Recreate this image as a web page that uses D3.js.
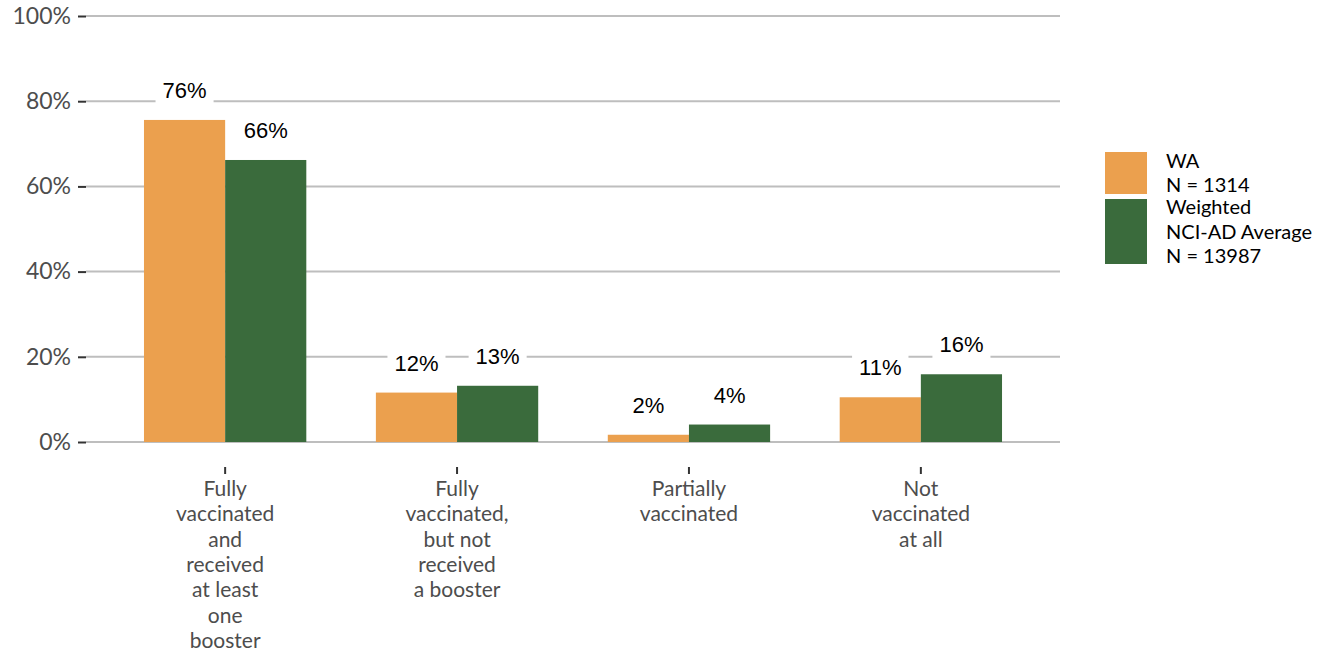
<!DOCTYPE html>
<html>
<head>
<meta charset="utf-8">
<script src="https://cdn.jsdelivr.net/npm/d3@7"></script>
<style>
  body { margin: 0; background: #fff; }
  svg { display: block; }
</style>
</head>
<body>
<svg width="1322" height="655"></svg>
<script>
// chart data
let categories = [
	['Fully', 'vaccinated', 'and', 'received', 'at least', 'one', 'booster'],
	['Fully', 'vaccinated,', 'but not', 'received', 'a booster'],
	['Partially', 'vaccinated'],
	['Not', 'vaccinated', 'at all'],
]
let seriesNames = ['WA', 'NCI']
let waValues = [0.756, 0.116, 0.017, 0.105]
let nciValues = [0.662, 0.132, 0.041, 0.159]
let waLabels = ['76%', '12%', '2%', '11%']
let nciLabels = ['66%', '13%', '4%', '16%']
let yTicks = [0, 0.2, 0.4, 0.6, 0.8, 1]
let legendLines = [
	['WA', 'N = 1314'],
	['Weighted', 'NCI-AD Average', 'N = 13987'],
]
let colors = ['#eba04e', '#3a6b3c']

let svg = d3.select('svg')
let keys = categories.map((c, i) => i)

let xScale = d3.scalePoint()
	.domain(keys)
	.range([86, 1060])
	.padding(0.6)

let groupWidth = xScale.step() * 0.7
let subScale = d3.scaleBand()
	.domain(seriesNames)
	.range([-groupWidth / 2, groupWidth / 2])

let yScale = d3.scaleLinear()
	.domain([0, 1])
	.range([442, 16])

// grid + left axis
let leftAxis = d3.axisLeft(yScale)
	.tickValues(yTicks)
	.tickFormat(d3.format('.0%'))
	.tickSize(8)
	.tickPadding(7)

let leftAxisG = svg.append('g')
	.attr('transform', 'translate(86, 0)')
	.call(leftAxis)
leftAxisG.select('.domain').remove()
leftAxisG.selectAll('.tick line').attr('stroke', '#333').attr('stroke-width', 2)
leftAxisG.selectAll('.tick text')
	.attr('fill', '#4d4d4d')
	.style('font-family', 'Lato, sans-serif')
	.style('font-size', '23px')

svg.append('g')
	.selectAll('line')
	.data(yTicks)
	.join('line')
	.attr('x1', 86)
	.attr('x2', 1060)
	.attr('y1', d => yScale(d))
	.attr('y2', d => yScale(d))
	.attr('stroke', '#bebebe')
	.attr('stroke-width', 2)

// bars
let rows = []
keys.forEach(i => {
	rows.push({ i: i, s: 'WA', v: waValues[i], label: waLabels[i], color: colors[0] })
	rows.push({ i: i, s: 'NCI', v: nciValues[i], label: nciLabels[i], color: colors[1] })
})

svg.append('g')
	.selectAll('rect')
	.data(rows)
	.join('rect')
	.attr('x', d => xScale(d.i) + subScale(d.s))
	.attr('y', d => yScale(d.v))
	.attr('width', subScale.bandwidth())
	.attr('height', d => yScale(0) - yScale(d.v))
	.attr('fill', d => d.color)

// value labels with white box
let labelG = svg.append('g')
	.selectAll('g')
	.data(rows)
	.join('g')
	.attr('transform', d => `translate(${xScale(d.i) + subScale(d.s) + subScale.bandwidth() / 2}, ${yScale(d.v + 0.07)})`)

labelG.append('rect').attr('fill', '#fff')
labelG.append('text')
	.attr('text-anchor', 'middle')
	.attr('dy', '0.36em')
	.style('font-family', '"Liberation Sans", Arial, sans-serif')
	.style('font-size', '22px')
	.attr('fill', '#000')
	.text(d => d.label)

labelG.each(function () {
	let g = d3.select(this)
	let box = g.select('text').node().getBBox()
	g.select('rect')
		.attr('x', box.x - 7)
		.attr('y', box.y - 3)
		.attr('width', box.width + 14)
		.attr('height', box.height + 6)
})

// bottom ticks + category labels
let catG = svg.append('g')
	.selectAll('g')
	.data(keys)
	.join('g')
	.attr('transform', d => `translate(${xScale(d)}, 0)`)

catG.append('line')
	.attr('y1', 467)
	.attr('y2', 474)
	.attr('stroke', '#333')
	.attr('stroke-width', 2)

catG.append('text')
	.attr('text-anchor', 'middle')
	.attr('fill', '#4d4d4d')
	.style('font-family', 'Lato, sans-serif')
	.style('font-size', '21px')
	.selectAll('tspan')
	.data(d => categories[d])
	.join('tspan')
	.attr('x', 0)
	.attr('y', (d, j) => 496 + j * 25.3)
	.text(d => d)

// legend
let legendBoxes = [[152, 194], [199, 264]]
let legendG = svg.append('g')
legendBoxes.forEach((b, k) => {
	legendG.append('rect')
		.attr('x', 1105)
		.attr('y', b[0])
		.attr('width', 42)
		.attr('height', b[1] - b[0])
		.attr('fill', colors[k])
	let mid = (b[0] + b[1]) / 2
	let n = legendLines[k].length
	legendG.append('text')
		.attr('fill', '#000')
		.style('font-family', 'Lato, sans-serif')
		.style('font-size', '20px')
		.selectAll('tspan')
		.data(legendLines[k])
		.join('tspan')
		.attr('x', 1166)
		.attr('y', (d, j) => mid + (j - (n - 1) / 2) * 24.5)
		.attr('dy', '0.36em')
		.text(d => d)
})
</script>
</body>
</html>
